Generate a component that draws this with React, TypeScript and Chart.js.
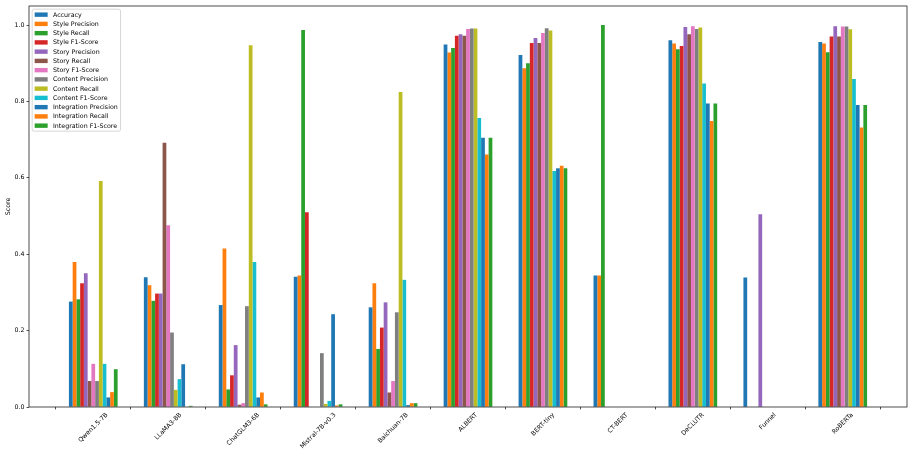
import React, { useEffect, useRef } from 'react';
import { Chart, registerables } from 'chart.js';

Chart.register(...registerables);

const categories = ['Qwen1.5-7B', 'LLaMA3-8B', 'ChatGLM3-6B', 'Mistral-7B-v0.3', 'Baichuan-7B', 'ALBERT', 'BERT-tiny', 'CT-BERT', 'DeCLUTR', 'Funnel', 'RoBERTa'];

const seriesNames = ['Accuracy', 'Style Precision', 'Style Recall', 'Style F1-Score', 'Story Precision', 'Story Recall', 'Story F1-Score', 'Content Precision', 'Content Recall', 'Content F1-Score', 'Integration Precision', 'Integration Recall', 'Integration F1-Score'];

const seriesColors = ['#1f77b4', '#ff7f0e', '#2ca02c', '#d62728', '#9467bd', '#8c564b', '#e377c2', '#7f7f7f', '#bcbd22', '#17becf', '#1f77b4', '#ff7f0e', '#2ca02c'];

const accuracy = [0.276, 0.340, 0.267, 0.341, 0.261, 0.949, 0.922, 0.344, 0.960, 0.339, 0.956];
const stylePrecision = [0.380, 0.319, 0.415, 0.344, 0.324, 0.928, 0.887, 0.344, 0.952, 0, 0.952];
const styleRecall = [0.282, 0.278, 0.046, 0.987, 0.152, 0.940, 0.900, 1.0, 0.937, 0, 0.929];
const styleF1 = [0.324, 0.297, 0.083, 0.510, 0.208, 0.972, 0.953, 0, 0.945, 0, 0.970];
const storyPrecision = [0.350, 0.297, 0.162, 0, 0.274, 0.976, 0.966, 0, 0.995, 0.505, 0.997];
const storyRecall = [0.068, 0.692, 0.006, 0, 0.038, 0.972, 0.953, 0, 0.976, 0, 0.970];
const storyF1 = [0.113, 0.476, 0.010, 0, 0.068, 0.990, 0.979, 0, 0.997, 0, 0.996];
const contentPrecision = [0.068, 0.195, 0.264, 0.141, 0.248, 0.991, 0.992, 0, 0.990, 0, 0.996];
const contentRecall = [0.592, 0.045, 0.947, 0.008, 0.825, 0.991, 0.986, 0, 0.994, 0, 0.989];
const contentF1 = [0.113, 0.073, 0.380, 0.016, 0.333, 0.757, 0.618, 0, 0.847, 0, 0.859];
const integrationPrecision = [0.025, 0.112, 0.025, 0.243, 0.005, 0.705, 0.625, 0, 0.795, 0, 0.791];
const integrationRecall = [0.039, 0, 0.038, 0.004, 0.010, 0.661, 0.632, 0, 0.749, 0, 0.732];
const integrationF1 = [0.099, 0.003, 0.007, 0.007, 0.010, 0.705, 0.625, 0, 0.795, 0, 0.791];

const yTicks = [0, 0.2, 0.4, 0.6, 0.8, 1.0];

const FONT = "'DejaVu Sans', sans-serif";
const FS = 6.3;

export default function App() {
  const ref = useRef<HTMLCanvasElement>(null);

  useEffect(() => {
    document.body.style.margin = '0';
    const canvas = ref.current;
    if (!canvas) return;
    const series = [accuracy, stylePrecision, styleRecall, styleF1, storyPrecision, storyRecall, storyF1, contentPrecision, contentRecall, contentF1, integrationPrecision, integrationRecall, integrationF1];
    const datasets = series.map((vals, k) => ({
      label: seriesNames[k],
      data: vals.map((v, i) => ({ x: i, y: v })),
      backgroundColor: seriesColors[k],
      borderWidth: 0,
      categoryPercentage: 0.65,
      barPercentage: 1.0,
    }));

    const framePlugin = {
      id: 'frameAndLegend',
      afterDraw(chart: any) {
        const { ctx, chartArea: a, scales } = chart;
        ctx.save();
        // axes frame
        ctx.strokeStyle = '#222';
        ctx.lineWidth = 0.8;
        ctx.strokeRect(a.left, a.top, a.right - a.left, a.bottom - a.top);

        // x tick labels, rotated 45°, centered below tick
        ctx.font = `${FS}px ${FONT}`;
        ctx.fillStyle = '#000';
        const xs = scales.x;
        const y0 = a.bottom + 4.4;
        const H = FS * 1.17;
        categories.forEach((c, i) => {
          const px = xs.getPixelForValue(i);
          const W = ctx.measureText(c).width;
          const d = (W + H) * Math.SQRT1_2;
          ctx.save();
          ctx.translate(px, y0 + d / 2);
          ctx.rotate(-Math.PI / 4);
          ctx.textAlign = 'center';
          ctx.textBaseline = 'middle';
          ctx.fillText(c, 0, 0);
          ctx.restore();
        });

        // legend
        const lx = a.left + 3.15;
        const ly = a.top + 3.15;
        const textX = lx + 20.8;
        let maxW = 0;
        chart.data.datasets.forEach((ds: any) => {
          maxW = Math.max(maxW, ctx.measureText(ds.label).width);
        });
        const lw = textX + maxW + 2.8 - lx;
        const spacing = 9.25;
        const firstCy = ly + 5.5;
        const n = chart.data.datasets.length;
        const lh = (firstCy - ly) * 2 + spacing * (n - 1);
        const r = 2;
        ctx.beginPath();
        ctx.moveTo(lx + r, ly);
        ctx.lineTo(lx + lw - r, ly);
        ctx.arcTo(lx + lw, ly, lx + lw, ly + r, r);
        ctx.lineTo(lx + lw, ly + lh - r);
        ctx.arcTo(lx + lw, ly + lh, lx + lw - r, ly + lh, r);
        ctx.lineTo(lx + r, ly + lh);
        ctx.arcTo(lx, ly + lh, lx, ly + lh - r, r);
        ctx.lineTo(lx, ly + r);
        ctx.arcTo(lx, ly, lx + r, ly, r);
        ctx.closePath();
        ctx.fillStyle = 'rgba(255,255,255,0.8)';
        ctx.fill();
        ctx.strokeStyle = '#cccccc';
        ctx.lineWidth = 0.8;
        ctx.stroke();
        chart.data.datasets.forEach((ds: any, k: number) => {
          const cy = firstCy + spacing * k;
          ctx.fillStyle = ds.backgroundColor;
          ctx.fillRect(lx + 2.5, cy - 2.2, 13, 4.4);
          ctx.fillStyle = '#000';
          ctx.textAlign = 'left';
          ctx.textBaseline = 'middle';
          ctx.fillText(ds.label, textX, cy + 0.3);
        });
        ctx.restore();
      },
    };

    const chart = new Chart(canvas, {
      type: 'bar',
      data: { datasets: datasets as any },
      options: {
        responsive: false,
        animation: false,
        layout: { padding: { top: 6, right: 6, left: 0, bottom: 0 } },
        plugins: { legend: { display: false }, tooltip: { enabled: false } },
        scales: {
          x: {
            type: 'linear',
            min: -0.8575,
            max: 10.8575,
            offset: false,
            grid: { drawOnChartArea: false, drawTicks: true, tickLength: 2.4, color: '#000', lineWidth: 0.7 },
            border: { display: false },
            ticks: { stepSize: 1, includeBounds: false, autoSkip: false, display: false },
            afterFit: (s: any) => { s.height = 48; },
          },
          y: {
            type: 'linear',
            min: 0,
            max: 1.05,
            grid: { drawOnChartArea: false, drawTicks: true, tickLength: 2.4, color: '#000', lineWidth: 0.7 },
            border: { display: false },
            afterBuildTicks: (s: any) => { s.ticks = yTicks.map((v) => ({ value: v })); },
            ticks: {
              font: { family: FONT, size: FS },
              color: '#000',
              padding: 2.2,
              callback: (v: any) => Number(v).toFixed(1),
            },
            title: { display: true, text: 'Score', font: { family: FONT, size: FS }, color: '#000', padding: { top: 5, bottom: 0 } },
            afterFit: (s: any) => { s.width = 29; },
          },
        },
      } as any,
      plugins: [framePlugin],
    });
    return () => chart.destroy();
  }, []);

  return (
    <canvas
      ref={ref}
      width={913}
      height={455}
      style={{ display: 'block', position: 'fixed', left: 0, top: 0, width: 913, height: 455 }}
    />
  );
}
